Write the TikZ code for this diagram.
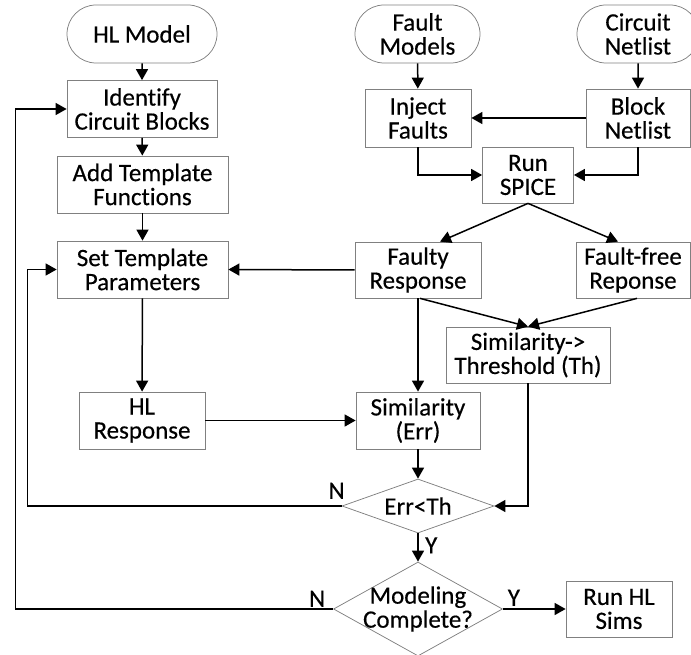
\documentclass[tikz,border=0pt]{standalone}
\usepackage{fontspec}
\setmainfont{Carlito}[Ligatures={NoCommon}, FakeBold=0.4]
\usetikzlibrary{arrows.meta,shapes.misc,shapes.geometric,calc}

\begin{document}
\begin{tikzpicture}[x=1pt,y=-1pt,
  txt/.style={font=\fontsize{25}{24}\selectfont, align=center},
  box/.style={txt, draw=black!50, line width=0.75pt, rectangle, inner sep=0pt, minimum height=57pt},
  pill/.style={box, rounded rectangle, minimum height=58pt},
  decision/.style={draw=black!50, line width=0.75pt, diamond, inner sep=0pt},
  flow/.style={line width=1.5pt, -{Triangle[length=11pt,width=12pt]}},
  lab/.style={font=\fontsize{25}{25}\selectfont, inner sep=1pt}
]
\useasboundingbox (0,0) rectangle (691,655);

% start points
\node[pill, minimum width=150pt] (hl) at (142,34) {HL Model};
\node[pill, minimum width=125pt] (fm) at (417.5,34) {Fault\\Models};
\node[pill, minimum width=122pt] (cn) at (638,34) {Circuit\\Netlist};

% left column
\node[box, minimum width=150pt] (id)  at (142,109)   {Identify\\Circuit Blocks};
\node[box, minimum width=171pt] (add) at (142.5,184.5) {Add Template\\Functions};
\node[box, minimum width=171pt] (set) at (142.5,269.5) {Set Template\\Parameters};
\node[box, minimum width=126pt] (hlr) at (142,420.5) {HL\\Response};

% fault simulation branch
\node[box, minimum width=106pt, minimum height=58pt] (inj) at (418,118) {Inject\\Faults};
\node[box, minimum width=104pt, minimum height=58pt] (blk) at (638,118) {Block\\Netlist};
\node[box, minimum width=91pt, minimum height=56pt] (spice) at (528,175) {Run\\SPICE};
\node[box, minimum width=126pt, minimum height=56pt] (faulty) at (418,270) {Faulty\\Response};
\node[box, minimum width=114pt, minimum height=56pt] (ff) at (633,270) {Fault-free\\Reponse};
\node[box, minimum width=164pt, minimum height=56pt] (th) at (528,355) {Similarity->\\Threshold (Th)};
\node[box, minimum width=124pt] (sim) at (418,420.5) {Similarity\\(Err)};

% decisions
\node[decision, minimum width=152pt, minimum height=54pt] (err) at (418,506) {};
\node[txt] at (err) {Err<Th};
\node[decision, minimum width=169pt, minimum height=94pt] (mc) at (418,609) {};
\node[txt] at (mc) {Modeling\\Complete?};
\node[box, minimum width=106pt, minimum height=56pt] (run) at (619,609) {Run HL\\Sims};

% connectors
\draw[flow] (hl) -- (id);
\draw[flow] (id) -- (add);
\draw[flow] (add) -- (set);
\draw[flow] (set) -- (hlr);
\draw[flow] (hlr) -- (sim);
\draw[flow] (fm) -- (inj);
\draw[flow] (cn) -- (blk);
\draw[flow] (blk) -- (inj);
\draw[flow] (inj.south) |- (spice.west);
\draw[flow] (blk.south) |- (spice.east);
\draw[flow] (spice.south) -- ($(faulty.north)+(22,0)$);
\draw[flow] (spice.south) -- ($(ff.north)+(-15,0)$);
\draw[flow] (faulty.west) -- (set.east);
\draw[flow] ($(faulty.south)+(2,0)$) -- (th.north);
\draw[flow] ($(ff.south)+(4,0)$) -- (th.north);
\draw[flow] (faulty) -- (sim);
\draw[flow] (sim) -- (err);
\draw[flow] (th.south) |- (err.east);
\draw[flow] (err) -- (mc);
\node[lab, anchor=west] at ($(err.south)+(6,12)$) {Y};
\draw[flow] (mc.east) -- (run.west);
\node[lab, anchor=south] at ($(mc.east)+(11,-2)$) {Y};
\draw[flow] (err.west) -- ++(-314,0) |- (set.west);
\node[lab, anchor=south] at ($(err.west)+(-5,-6)$) {N};
\draw[flow] (mc.west) -- ++(-317.5,0) |- (id.west);
\node[lab, anchor=south] at ($(mc.west)+(-16,-1)$) {N};
\end{tikzpicture}
\end{document}
